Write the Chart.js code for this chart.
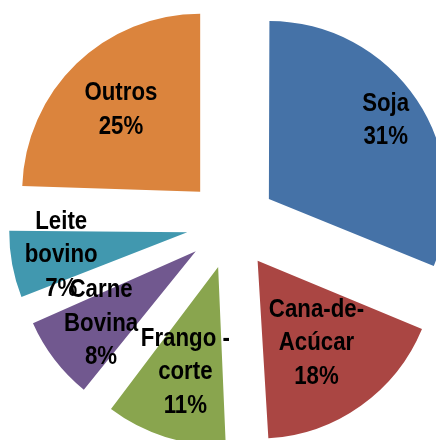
<!DOCTYPE html>
<html>
<head>
<meta charset="utf-8">
<script src="https://cdn.jsdelivr.net/npm/chart.js@4"></script>
<style>
html,body{margin:0;padding:0;background:#fff;}
canvas{display:block;}
</style>
</head>
<body>
<canvas id="c" width="436" height="440"></canvas>
<script>
// Data
const categories = [['Soja'], ['Cana-de-', 'Acúcar'], ['Frango -', 'corte'], ['Carne', 'Bovina'], ['Leite', 'bovino'], ['Outros']];
const shares = [31.2, 17.9, 11.4, 8.2, 6.8, 24.5];
const colors = ['#4572A7', '#AA4643', '#89A54E', '#71588F', '#4198AF', '#DB843D'];

// layout/style settings
const RADIUS = 178;
const EXPLODE = 45;                       // translation of each slice (px)
const labelFrac = [0.79, 0.57, 0.62, 0.67, 0.72, 0.64]; // label distance from slice apex, as fraction of radius
const FONT = 'bold 25px "Liberation Sans", Arial, sans-serif';
const TEXT_SX = 0.89;                     // horizontal condensing of label text
const LINE_H = 33.5;

const radiusFix = {
  id: 'radiusFix',
  beforeDatasetsDraw(chart) {
    const meta = chart.getDatasetMeta(0);
    const R = meta.controller.outerRadius;
    meta.data.forEach(arc => {
      const circ = arc.endAngle - arc.startAngle;
      const fix = 1 - Math.sin(Math.min(Math.PI, circ));
      arc.outerRadius = R - (EXPLODE) * fix;
    });
  }
};

const sliceLabels = {
  id: 'sliceLabels',
  afterDatasetsDraw(chart) {
    const ctx = chart.ctx;
    const meta = chart.getDatasetMeta(0);
    const R = meta.controller.outerRadius;
    const total = shares.reduce((a, b) => a + b, 0);
    meta.data.forEach((arc, i) => {
      const mid = (arc.startAngle + arc.endAngle) / 2;
      const d = EXPLODE + labelFrac[i] * R;
      const lx = arc.x + Math.cos(mid) * d;
      const ly = arc.y + Math.sin(mid) * d;
      const lines = categories[i].concat([Math.round(shares[i] / total * 100) + '%']);
      const top = ly - (lines.length - 1) * LINE_H / 2;
      ctx.save();
      ctx.translate(lx, 0);
      ctx.scale(TEXT_SX, 1);
      ctx.font = FONT;
      ctx.fillStyle = '#000';
      ctx.textAlign = 'center';
      ctx.textBaseline = 'middle';
      lines.forEach((t, k) => ctx.fillText(t, 0, top + k * LINE_H));
      ctx.restore();
    });
  }
};

new Chart(document.getElementById('c'), {
  type: 'pie',
  data: {
    labels: categories,
    datasets: [{
      data: shares,
      backgroundColor: colors,
      borderWidth: 0,
      offset: EXPLODE * 4
    }]
  },
  options: {
    responsive: false,
    devicePixelRatio: 1,
    animation: false,
    events: [],
    radius: RADIUS,
    layout: { padding: { left: 27, right: 0, top: 8, bottom: 0 } },
    plugins: { legend: { display: false }, tooltip: { enabled: false } }
  },
  plugins: [radiusFix, sliceLabels]
});
</script>
</body>
</html>
